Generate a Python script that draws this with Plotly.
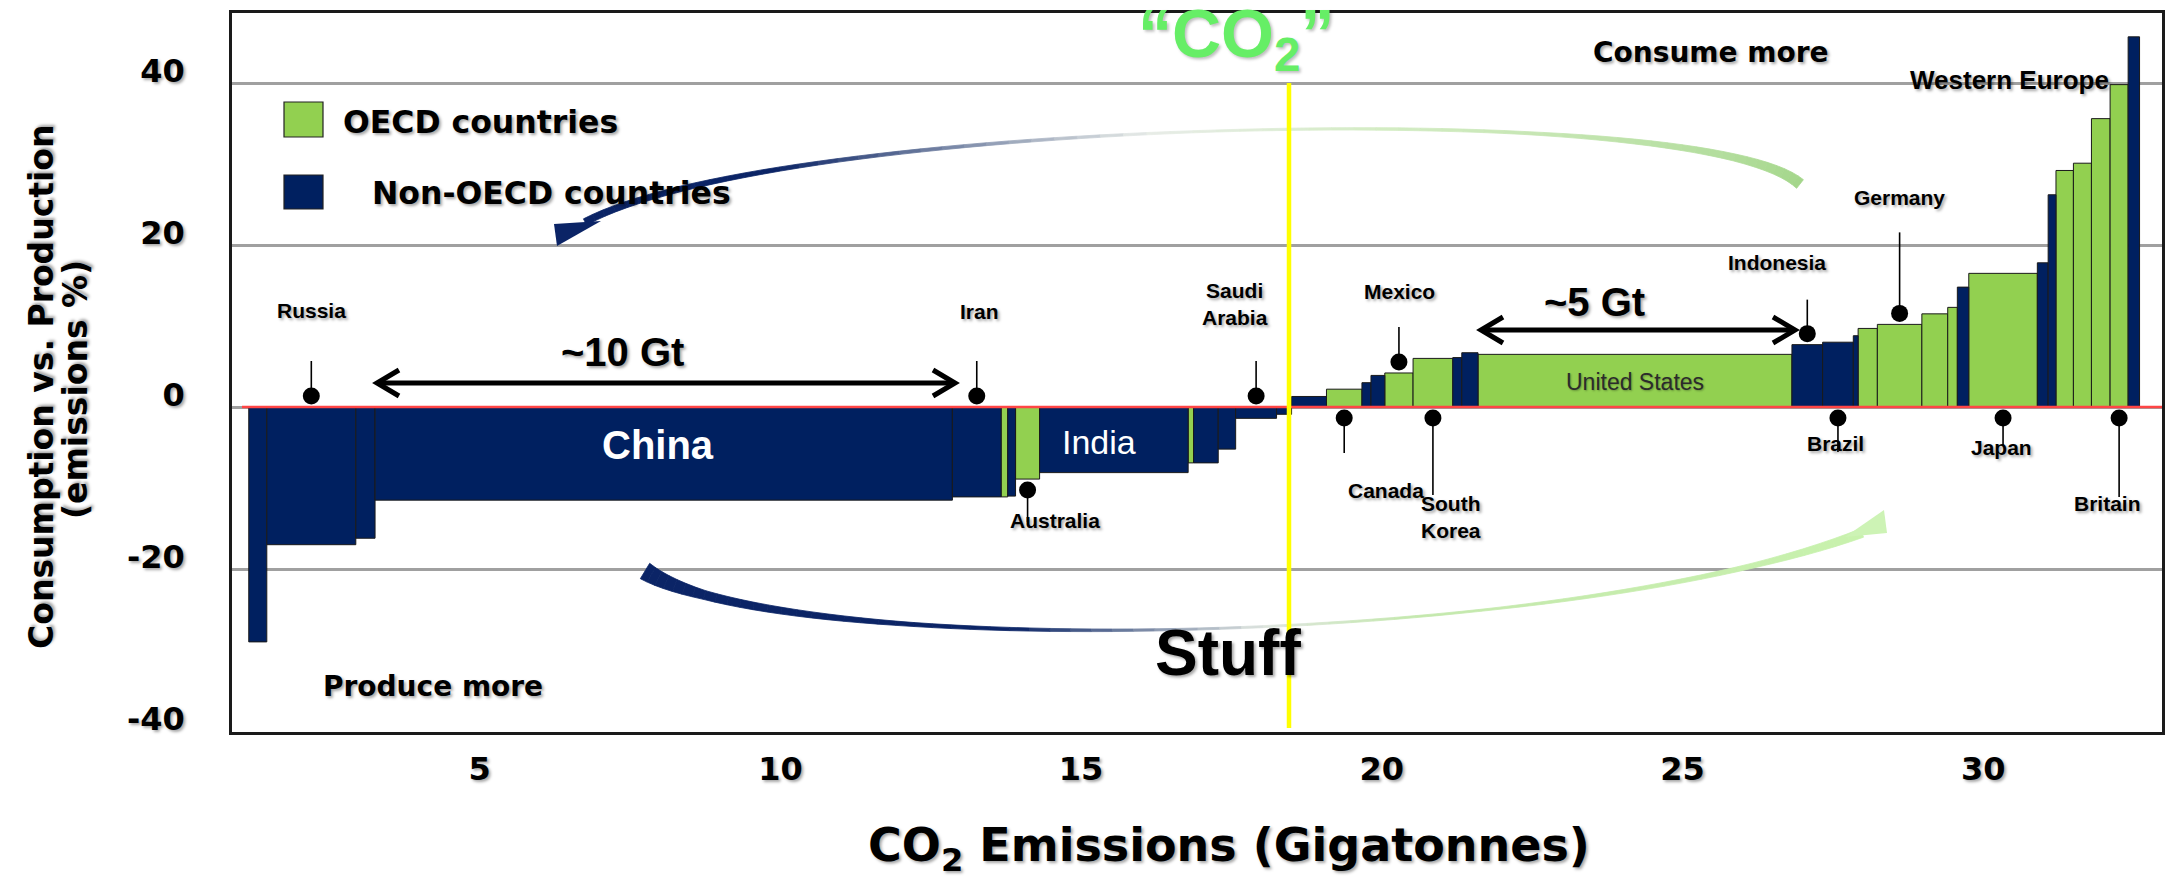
import numpy as np
import plotly.graph_objects as go

# ---------------- data ----------------
bar_names = ["", "Russia", "", "China", "Iran", "", "", "Australia", "India", "", "", "", "Saudi Arabia", "",
             "", "Canada", "", "", "Mexico", "South Korea", "", "", "United States", "Indonesia", "Brazil", "",
             "", "Germany", "", "", "", "Japan", "", "", "", "", "", "Britain", ""]
emissions_gt = [0.30, 1.48, 0.32, 9.60, 0.81, 0.11, 0.13, 0.40, 2.47, 0.09, 0.41, 0.29, 0.68, 0.25,
                0.58, 0.59, 0.15, 0.23, 0.47, 0.66, 0.15, 0.27, 5.22, 0.51, 0.51, 0.08,
                0.32, 0.74, 0.43, 0.16, 0.19, 1.14, 0.18, 0.13, 0.29, 0.30, 0.31, 0.30, 0.19]
cons_vs_prod_pct = [-29.0, -17.0, -16.2, -11.5, -11.1, -11.1, -11.0, -8.9, -8.1, -6.9, -6.9, -5.2, -1.4, -0.9,
                    1.3, 2.2, 3.0, 3.9, 4.2, 6.0, 6.1, 6.7, 6.5, 7.7, 8.0, 8.8,
                    9.7, 10.2, 11.5, 12.3, 14.8, 16.5, 17.8, 26.2, 29.2, 30.1, 35.6, 39.8, 45.7]
is_oecd = [0, 0, 0, 0, 0, 1, 0, 1, 0, 1, 0, 0, 0, 0,
           0, 1, 0, 0, 1, 1, 0, 0, 1, 0, 0, 0,
           1, 1, 1, 1, 0, 1, 0, 0, 1, 1, 1, 1, 0]
x_tickvals = [5, 10, 15, 20, 25, 30]
x_ticktext = ["5", "10", "15", "20", "25", "30"]
y_tickvals = [-40, -20, 0, 20, 40]
y_ticktext = ["-40", "-20", "0", "20", "40"]
series_names = ["OECD countries", "Non-OECD countries"]
y_title_lines = ["Consumption vs. Production", "(emissions %)"]
x_title = "CO<sub>2</sub> Emissions (Gigatonnes)"

# ---------------- layout constants ----------------
X_START = 1.16                       # cumulative emissions where first bar starts
W, H = 2167, 880
PL, PR, PT, PB = 232, 2162, 13, 732  # plot frame in pixels
PX_X0, PX_PER_GT = 179.0, 60.14
PX_Y0, PX_PER_PCT = 407.0, 8.1


def gx(px):
    return (px - PX_X0) / PX_PER_GT


def gy(py):
    return (PX_Y0 - py) / PX_PER_PCT


def paper_x(px):
    return (px - PL) / (PR - PL)


def paper_y(py):
    return (PB - py) / (PB - PT)


GREEN = "#92D050"
NAVY = "#002060"
FUT = "DejaVu Sans"
ARI = "Liberation Sans"
SH = "2px 2px 3px rgba(0,0,0,0.35)"

w = np.array(emissions_gt)
v = np.array(cons_vs_prod_pct)
right = X_START + np.cumsum(w)
center = right - w / 2
oecd = np.array(is_oecd) == 1

fig = go.Figure()
for flag, name, col in [(True, series_names[0], GREEN), (False, series_names[1], NAVY)]:
    m = oecd == flag
    fig.add_trace(go.Bar(
        x=center[m], y=v[m], width=w[m], name=name,
        hovertext=[bar_names[i] for i in np.where(m)[0]],
        marker=dict(color=col, line=dict(color="#1a1a1a", width=1)),
        showlegend=False))

shapes = []
annotations = []


def add_line(x0, y0, x1, y1, color, width):
    shapes.append(dict(type="line", xref="x", yref="y", x0=gx(x0), y0=gy(y0), x1=gx(x1), y1=gy(y1),
                       line=dict(color=color, width=width), layer="above"))


def add_poly(pts, fill, closed=True, lcol=None, lw=0):
    path = "M " + " L ".join(f"{gx(a):.4f},{gy(b):.4f}" for a, b in pts) + (" Z" if closed else "")
    d = dict(type="path", xref="x", yref="y", path=path, layer="above",
             line=dict(color=lcol or fill, width=lw))
    if closed:
        d["fillcolor"] = fill
    shapes.append(d)


def hex2rgb(h):
    h = h.lstrip("#")
    return np.array([int(h[i:i + 2], 16) for i in (0, 2, 4)], float)


def color_at(t, stops):
    ts = [s[0] for s in stops]
    cs = np.array([hex2rgb(s[1]) for s in stops])
    rgb = [np.interp(t, ts, cs[:, k]) for k in range(3)]
    return "rgb(%d,%d,%d)" % tuple(int(round(c)) for c in rgb)


def ribbon(p, wstops, cstops, n=70):
    p = [np.array(q, float) for q in p]
    t = np.linspace(0, 1, n)[:, None]
    c = ((1 - t) ** 3) * p[0] + 3 * ((1 - t) ** 2) * t * p[1] + 3 * (1 - t) * t ** 2 * p[2] + t ** 3 * p[3]
    d = np.gradient(c, axis=0)
    d /= np.linalg.norm(d, axis=1)[:, None]
    nrm = np.stack([-d[:, 1], d[:, 0]], axis=1)
    tt = t[:, 0]
    wd = np.interp(tt, [s[0] for s in wstops], [s[1] for s in wstops])
    a = c + nrm * wd[:, None] / 2
    b = c - nrm * wd[:, None] / 2
    for i in range(n - 1):
        col = color_at((tt[i] + tt[i + 1]) / 2, cstops)
        add_poly([tuple(a[i]), tuple(a[i + 1]), tuple(b[i + 1]), tuple(b[i])], col, lw=0.8)


# curved "CO2" arrow (top) and "Stuff" arrow (bottom)
ribbon([(585, 222), (780, 118), (1700, 95), (1800, 184)],
       [(0, 7), (0.25, 3.5), (0.5, 2), (0.7, 3), (0.88, 7), (1, 11)],
       [(0, "#0b2466"), (0.2, "#0b2466"), (0.45, "#e8ece8"), (0.6, "#d3ecc3"), (1, "#a3d68a")])
add_poly([(554, 224), (557, 246), (601, 221)], "#0b2466")
ribbon([(645, 571), (780, 660), (1550, 650), (1862, 533)],
       [(0, 18), (0.1, 9), (0.3, 4), (0.5, 2), (0.7, 2), (0.9, 5), (1, 9)],
       [(0, "#0b2466"), (0.38, "#0b2466"), (0.55, "#dfe5e0"), (0.65, "#c4e8ad"), (1, "#c8f2ad")])
add_poly([(1845, 537), (1887, 533), (1884, 510)], "#cdf3b5")

# zero line (red) and yellow divider
shapes.append(dict(type="line", xref="x", yref="y", x0=gx(242), x1=gx(2162), y0=0, y1=0,
                   line=dict(color="#ff4545", width=2.5), layer="above"))
add_line(1289, 83, 1289, 728, "#ffff00", 4.5)

# double arrows
for (xa, xb, yy) in [(377, 955, 383), (1481, 1795, 330)]:
    add_line(xa + 4, yy, xb - 4, yy, "black", 5)
    add_poly([(xa + 22, yy - 13), (xa, yy), (xa + 22, yy + 13)], None, closed=False, lcol="black", lw=5)
    add_poly([(xb - 22, yy - 13), (xb, yy), (xb - 22, yy + 13)], None, closed=False, lcol="black", lw=5)

# custom legend squares
shapes.append(dict(type="rect", xref="x", yref="y", x0=gx(284), x1=gx(323), y0=gy(137), y1=gy(102),
                   fillcolor=GREEN, line=dict(color="#222", width=1.2), layer="above"))
shapes.append(dict(type="rect", xref="x", yref="y", x0=gx(284), x1=gx(323), y0=gy(209), y1=gy(175),
                   fillcolor=NAVY, line=dict(color="#222", width=1.2), layer="above"))

# pins (lollipop markers) : side, stick length px, label dx px, label dy px, label text
pins = {
    "Russia": ("up", 35, 0, -86, "Russia"),
    "Iran": ("up", 35, 3, -85, "Iran"),
    "Saudi Arabia": ("up", 35, -21, -92, "Saudi<br>Arabia"),
    "Mexico": ("up", 35, 1, -70, "Mexico"),
    "Indonesia": ("up", 34, -30, -71, "Indonesia"),
    "Germany": ("up", 81, 0, -116, "Germany"),
    "Australia": ("down", 32, 27, 30, "Australia"),
    "Canada": ("down", 35, 42, 72, "Canada"),
    "South Korea": ("down", 77, 18, 99, "South<br>Korea"),
    "Brazil": ("down", 34, -2, 25, "Brazil"),
    "Japan": ("down", 27, -2, 29, "Japan"),
    "Britain": ("down", 79, -12, 85, "Britain"),
}
DOT_GAP = 11
dot_x, dot_y = [], []
for i, nm in enumerate(bar_names):
    if nm not in pins:
        continue
    side, L, dx, dy, txt = pins[nm]
    if side == "up":
        yd = max(v[i], 0) + DOT_GAP / PX_PER_PCT
        ys = yd + L / PX_PER_PCT
    else:
        yd = min(v[i], 0) - DOT_GAP / PX_PER_PCT
        ys = yd - L / PX_PER_PCT
    dot_x.append(center[i])
    dot_y.append(yd)
    shapes.append(dict(type="line", xref="x", yref="y", x0=center[i], x1=center[i], y0=yd, y1=ys,
                       line=dict(color="black", width=1.6), layer="above"))
    annotations.append(dict(x=center[i], y=yd, xref="x", yref="y", text=txt, showarrow=False,
                            xshift=dx, yshift=-dy, xanchor="center", yanchor="middle",
                            font=dict(family=ARI, size=21, weight="bold", color="black", shadow=SH)))

fig.add_trace(go.Scatter(x=dot_x, y=dot_y, mode="markers", showlegend=False, hoverinfo="skip",
                         marker=dict(size=17, color="black")))


def add_text(txt, px, py, family, size, color="black", weight="bold", xanchor="center", shadow=SH):
    annotations.append(dict(x=gx(px), y=gy(py), xref="x", yref="y", text=txt, showarrow=False,
                            xanchor=xanchor, yanchor="middle",
                            font=dict(family=family, size=size, weight=weight, color=color, shadow=shadow)))


# labels inside bars
ci = bar_names.index("China")
annotations.append(dict(x=center[ci], y=gy(445), text="China", showarrow=False, xshift=-6,
                        font=dict(family=ARI, size=40, weight="bold", color="white")))
ii = bar_names.index("India")
annotations.append(dict(x=center[ii], y=gy(442), text="India", showarrow=False, xshift=-15,
                        font=dict(family=ARI, size=34, weight="normal", color="white")))
ui = bar_names.index("United States")
annotations.append(dict(x=center[ui], y=gy(382), text="United States", showarrow=False,
                        font=dict(family=ARI, size=23, weight="normal", color="#2b2b2b",
                                  shadow="1px 1px 2px rgba(0,0,0,0.3)")))

add_text("Consume more", 1710, 52, FUT, 28)
add_text("Produce more", 433, 686, FUT, 28)
add_text(series_names[0], 341, 122, FUT, 31.5, xanchor="left")
add_text(series_names[1], 370, 193, FUT, 31.5, xanchor="left")
add_text("Western Europe", 2009, 80, ARI, 26)
add_text("~10 Gt", 622, 352, ARI, 40)
add_text("~5 Gt", 1594, 302, ARI, 40)
add_text("Stuff", 1228, 653, ARI, 64)
add_text("“CO<sub>2</sub>”", 1236, 38, ARI, 68, color="#66ee66", shadow="2px 2px 3px rgba(0,0,0,0.25)")

# y-axis title, two rotated lines
for txt, px, py in [(y_title_lines[0], 41, 387), (y_title_lines[1], 76, 390)]:
    annotations.append(dict(x=paper_x(px), y=paper_y(py), xref="paper", yref="paper",
                            text=txt, textangle=-90, showarrow=False, xanchor="center", yanchor="middle",
                            font=dict(family=FUT, size=33, weight="bold", color="black", shadow=SH)))
# x-axis title
annotations.append(dict(x=paper_x(1229), y=paper_y(848), xref="paper", yref="paper", text=x_title,
                        showarrow=False, xanchor="center", yanchor="middle",
                        font=dict(family=FUT, size=46, weight="bold", color="black", shadow=SH)))

axis_line = dict(showline=True, mirror=True, linecolor="#1a1a1a", linewidth=2.5, ticks="")
fig.update_layout(
    width=W, height=H,
    margin=dict(l=PL, r=W - PR, t=PT, b=H - PB, autoexpand=False),
    paper_bgcolor="white", plot_bgcolor="white",
    barmode="overlay",
    showlegend=False,
    shapes=shapes, annotations=annotations,
    xaxis=dict(range=[gx(PL), gx(PR)], tickvals=x_tickvals, ticktext=x_ticktext,
               showgrid=False, zeroline=False, ticklabelstandoff=7,
               tickfont=dict(family=FUT, size=32, weight="bold", color="black", shadow=SH),
               **axis_line),
    yaxis=dict(range=[gy(PB), gy(PT)], tickvals=y_tickvals, ticktext=y_ticktext,
               showgrid=True, gridcolor="#a0a0a0", gridwidth=2.5, zeroline=False,
               ticklabelstandoff=38, ticklabelshift=-12,
               tickfont=dict(family=FUT, size=32, weight="bold", color="black", shadow=SH),
               **axis_line),
)

fig.write_html("out.html", config={"displayModeBar": False})
